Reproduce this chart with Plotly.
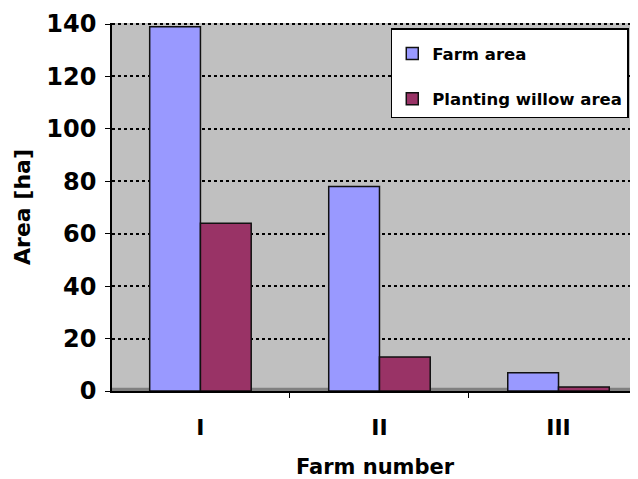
import plotly.graph_objects as go

farms = ["I", "II", "III"]
farm_area = [139, 78, 7]
willow_area = [64, 13, 1.5]
series_names = ["Farm area", "Planting willow area"]
y_ticks = [0, 20, 40, 60, 80, 100, 120, 140]

FONT = "DejaVu Sans"

fig = go.Figure()
fig.add_trace(go.Bar(
    x=farms, y=farm_area, name=series_names[0], legendgroup="a",
    marker=dict(color="#9999FF", line=dict(color="#111111", width=1.5)),
))
fig.add_trace(go.Bar(
    x=farms, y=willow_area, name=series_names[1], legendgroup="b",
    marker=dict(color="#993366", line=dict(color="#111111", width=1.5)),
))

# floor strip of the (pseudo-3D) chart
fig.add_shape(type="rect", xref="paper", yref="paper", x0=0, x1=1, y0=0, y1=0.009,
              fillcolor="#808080", line=dict(width=0), layer="below")

# page body has an 8px margin: figure is shrunk and margins shifted to compensate
fig.update_layout(
    width=630, height=471,
    margin=dict(l=104, r=0, t=15, b=88),
    paper_bgcolor="white",
    plot_bgcolor="#C0C0C0",
    barmode="group",
    bargap=0.433,
    bargroupgap=0,
    font=dict(family=FONT, color="black"),
    legend=dict(
        x=0.53, y=0.986, xanchor="left", yanchor="top",
        bgcolor="white", bordercolor="black", borderwidth=1.5,
        font=dict(family=FONT, size=16.5, color="black", weight="bold"),
        title=dict(text=" ", font=dict(size=5)),
        traceorder="grouped", tracegroupgap=21,
        itemwidth=30,
    ),
    xaxis=dict(
        range=[-0.494, 2.444],
        showline=True, linecolor="black", linewidth=1.5,
        ticks="outside", tickson="boundaries", ticklen=5, tickcolor="black",
        tickfont=dict(family=FONT, size=22, weight="bold"),
        ticklabelstandoff=16,
        title=dict(text="Farm number", font=dict(family=FONT, size=21, weight="bold"), standoff=25),
        showgrid=False,
        automargin=False,
    ),
    yaxis=dict(
        range=[0, 140.4],
        tickvals=y_ticks,
        showline=True, linecolor="black", linewidth=1.5,
        ticks="outside", ticklen=5, tickcolor="black",
        tickfont=dict(family=FONT, size=24, weight="bold"),
        ticklabelstandoff=4,
        title=dict(text="Area [ha]", font=dict(family=FONT, size=22, weight="bold"), standoff=10),
        showgrid=True, gridcolor="black", gridwidth=1.5, griddash="dot",
        zeroline=False,
        automargin=False,
    ),
)

fig.write_html("out.html")
